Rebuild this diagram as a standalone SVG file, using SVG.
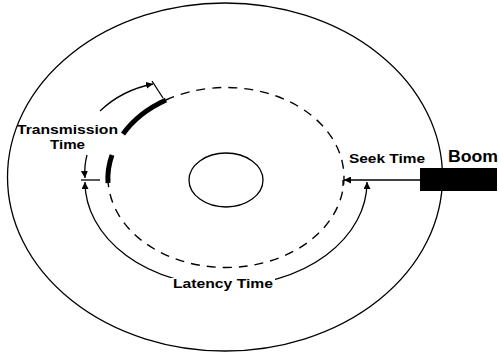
<svg xmlns="http://www.w3.org/2000/svg" width="499" height="355" viewBox="0 0 499 355">
<style>
.line{fill:none;stroke:#000;stroke-width:1.3}
.dash{fill:none;stroke:#000;stroke-width:1.4;stroke-dasharray:9 7}
.thick{fill:none;stroke:#000;stroke-width:5}
.lbl{font-family:"Liberation Sans",Arial,sans-serif;font-weight:bold;font-size:12px;fill:#000}
</style>
<defs>
<marker id="ah" viewBox="0 0 10 10" refX="10" refY="5" markerWidth="7" markerHeight="7" markerUnits="userSpaceOnUse" orient="auto">
<path d="M0,0 L10,5 L0,10 Z" fill="#000"/>
</marker>
<marker id="ahs" viewBox="0 0 10 10" refX="10" refY="5" markerWidth="7" markerHeight="7" markerUnits="userSpaceOnUse" orient="auto-start-reverse">
<path d="M0,0 L10,5 L0,10 Z" fill="#000"/>
</marker>
</defs>
<rect width="499" height="355" fill="#fff"/>
<g id="platter">
<ellipse class="line" cx="225" cy="177" rx="217.5" ry="174"/>
</g>
<g id="spindle">
<ellipse class="line" cx="226" cy="180" rx="37" ry="27"/>
</g>
<g id="track">
<path class="dash" d="M166,100 A118,90 0 1,1 108,178"/>
<path class="thick" d="M123,134 A118,90 0 0,1 166,100"/>
<path class="thick" d="M112,155 A118,90 0 0,0 108,183"/>
</g>
<g id="boom">
<rect x="420" y="168" width="77" height="23" fill="#000"/>
<text class="lbl" x="448" y="162" textLength="50" lengthAdjust="spacingAndGlyphs" style="font-size:16px">Boom</text>
</g>
<g id="connectors">
<path class="line" d="M100,111 Q122,90 153,84" marker-end="url(#ah)"/>
<path class="line" d="M152,81 L163,98"/>
<path class="line" d="M87,155 Q84,166 85,178" marker-end="url(#ah)"/>
<path class="line" d="M81,180 L100,180"/>
<path class="line" d="M85,182 A141,104 0 0,0 367,182" marker-start="url(#ahs)" marker-end="url(#ah)"/>
<path class="line" d="M420,180 L344,180" marker-end="url(#ah)"/>
<path class="line" d="M343,180 L343,186"/>
</g>
<g id="labels">
<rect x="171" y="278" width="104" height="14" fill="#fff"/>
<text class="lbl" x="173" y="288" textLength="100" lengthAdjust="spacingAndGlyphs">Latency Time</text>
<text class="lbl" x="17" y="134" textLength="101" lengthAdjust="spacingAndGlyphs">Transmission</text>
<text class="lbl" x="50" y="149" textLength="35" lengthAdjust="spacingAndGlyphs">Time</text>
<text class="lbl" x="349" y="163" textLength="76" lengthAdjust="spacingAndGlyphs">Seek Time</text>
</g>
</svg>
